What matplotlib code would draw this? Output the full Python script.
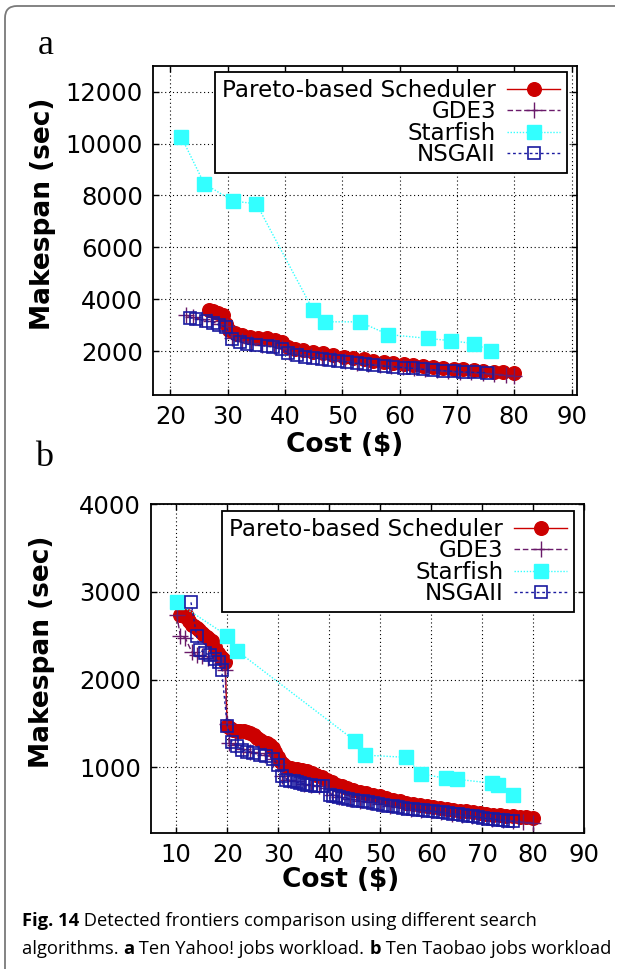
import matplotlib
matplotlib.use("Agg")
import matplotlib.pyplot as plt
from matplotlib.path import Path
from matplotlib.patches import PathPatch

# ---------------- Panel a : Ten Yahoo! jobs workload ----------------
a_pareto_cost = [26.7, 27.5, 28.3, 29.1, 29.7, 30.3, 31.2, 32.4, 33.9, 35.3, 36.8, 38.2, 39.4,
                 40.6, 41.7, 43.2, 44.9, 46.7, 48.4, 50.2, 51.9, 53.7, 55.4, 57.2, 58.9, 60.7,
                 62.4, 64.1, 65.9, 67.6, 69.4, 71.1, 72.9, 74.6, 76.4, 78.1, 80.0]
a_pareto_span = [3600, 3550, 3470, 3380, 3060, 2810, 2680, 2610, 2550, 2525, 2490, 2420, 2360,
                 2170, 2100, 2040, 1975, 1910, 1845, 1780, 1720, 1680, 1630, 1590, 1550, 1500,
                 1460, 1425, 1400, 1360, 1320, 1295, 1270, 1230, 1205, 1180, 1140]

a_gde3_cost = [22.7, 24.0, 25.5, 27.0, 28.5, 29.8, 30.8, 32.5, 34.0, 36.0, 38.0, 39.5, 40.7,
               42.5, 44.5, 46.5, 48.5, 50.5, 52.5, 54.5, 56.5, 58.5, 60.5, 62.5, 64.5, 66.5,
               68.5, 70.5, 72.5, 74.5, 76.5, 78.5, 80.0]
a_gde3_span = [3380, 3300, 3230, 3150, 3050, 2950, 2500, 2380, 2300, 2220, 2180, 2120, 1950,
               1880, 1800, 1740, 1680, 1620, 1560, 1500, 1460, 1420, 1380, 1340, 1300, 1270,
               1240, 1210, 1180, 1150, 1110, 1070, 1040]

a_starfish_cost = [21.9, 25.9, 31.0, 35.0, 44.9, 47.0, 53.0, 58.0, 65.0, 69.0, 73.0, 76.0]
a_starfish_span = [10250, 8450, 7780, 7680, 3580, 3130, 3130, 2640, 2490, 2400, 2290, 2000]

a_nsga_cost = [23.4, 24.5, 26.2, 27.5, 28.5, 29.7, 30.7, 32.1, 33.3, 35.0, 36.8, 37.9, 39.4,
               40.6, 42.0, 43.5, 44.9, 46.4, 47.8, 49.3, 50.8, 52.5, 54.0, 55.4, 57.2, 58.9,
               60.7, 62.4, 64.1, 65.9, 67.6, 69.4, 71.1, 72.9, 75.2]
a_nsga_span = [3290, 3230, 3165, 3100, 3000, 2935, 2450, 2360, 2270, 2230, 2190, 2165, 2100,
               1910, 1845, 1780, 1745, 1705, 1655, 1615, 1580, 1525, 1490, 1460, 1425, 1400,
               1360, 1335, 1295, 1270, 1245, 1220, 1195, 1180, 1170]

# ---------------- Panel b : Ten Taobao jobs workload ----------------
b_pareto_cost = [10.8, 11.5, 12.1, 12.6, 13.0, 13.5, 14.0, 14.5, 15.0, 15.5, 16.0, 16.5, 17.0,
                 17.6, 18.1, 18.5, 18.9, 19.3, 19.6,
                 20.0, 20.5, 21.2, 21.9, 22.6, 23.2, 23.9, 24.5, 25.2, 25.8, 26.5, 27.1, 27.8,
                 28.4, 28.9, 29.4, 29.9, 30.4, 31.0, 31.7, 32.6, 33.6, 34.6, 35.6, 36.6, 37.5,
                 38.5, 39.5, 40.5, 41.5, 42.5, 43.4, 44.7, 46.0, 47.3, 48.6, 49.9, 51.2, 52.5,
                 53.8, 55.1, 56.4, 57.7, 59.1, 60.4, 61.7, 63.0, 64.3, 65.6, 66.9, 68.2, 69.5,
                 70.8, 72.1, 73.4, 74.7, 76.0, 77.3, 78.6, 80.0]
b_pareto_span = [2740, 2730, 2720, 2670, 2625, 2605, 2590, 2560, 2530, 2510, 2490, 2465, 2445,
                 2370, 2300, 2270, 2245, 2225, 2205,
                 1475, 1450, 1430, 1420, 1415, 1410, 1400, 1390, 1365, 1335, 1315, 1295, 1280,
                 1260, 1220, 1180, 1120, 1070, 1040, 1010, 995, 980, 968, 955, 935, 915,
                 890, 860, 830, 805, 785, 765, 745, 725, 707, 690, 670, 650, 632,
                 615, 600, 585, 570, 555, 545, 535, 527, 518, 508, 500, 490, 480,
                 470, 460, 455, 450, 442, 435, 430, 425]

b_gde3_cost = [10.1, 10.8, 11.8, 13.1, 14.0, 15.0, 16.3, 17.6, 18.9, 19.6, 19.9, 20.4, 21.5,
               23.0, 24.5, 26.0, 27.5, 29.0, 30.0, 30.8, 32.0, 33.5, 35.0, 36.5, 38.0, 39.5,
               40.5, 42.0, 44.0, 46.0, 48.0, 50.0, 52.0, 54.0, 56.0, 58.0, 60.0, 62.0, 64.0,
               66.0, 68.0, 70.0, 72.0, 74.0, 76.0, 78.0, 80.0]
b_gde3_span = [2740, 2500, 2470, 2310, 2285, 2265, 2245, 2225, 2190, 2110, 1500, 1280, 1250,
               1210, 1180, 1160, 1140, 1100, 1040, 900, 860, 840, 815, 800, 790, 770,
               690, 665, 640, 620, 605, 585, 565, 545, 530, 515, 500, 490, 475,
               462, 448, 432, 418, 402, 390, 375, 365]

b_starfish_cost = [10.1, 20.0, 22.0, 45.0, 47.0, 55.0, 58.0, 62.8, 65.0, 72.0, 73.0, 76.0]
b_starfish_span = [2880, 2500, 2325, 1305, 1140, 1115, 925, 877, 865, 820, 805, 685]

b_nsga_cost = [12.9, 14.0, 14.7, 15.7, 16.7, 17.6, 18.3, 18.9, 20.0, 20.9, 21.9, 22.9, 23.8,
               25.1, 26.4, 27.7, 29.0, 30.0, 30.7, 31.6, 32.3, 33.0, 33.6, 34.3, 35.0, 35.6,
               36.4, 37.2, 38.0, 38.8, 40.1, 40.8, 41.4, 42.0, 42.7, 43.7, 44.7, 45.6, 46.6,
               47.6, 48.6, 49.6, 50.6, 51.5, 52.5, 53.5, 54.5, 55.4, 56.4, 57.4, 58.4, 59.4,
               60.4, 61.3, 62.3, 63.3, 64.3, 65.2, 66.2, 67.2, 68.2, 69.1, 70.1, 71.1, 72.1,
               73.0, 74.0, 75.0, 76.0]
b_nsga_span = [2880, 2500, 2335, 2300, 2280, 2240, 2205, 2115, 1475, 1290, 1240, 1200, 1180,
               1165, 1145, 1125, 1095, 1030, 900, 860, 850, 840, 830, 822, 812, 805,
               798, 791, 788, 785, 690, 680, 670, 660, 650, 640, 632, 622, 613,
               607, 600, 588, 575, 565, 555, 546, 537, 531, 525, 517, 510, 505,
               500, 494, 488, 480, 472, 466, 460, 451, 442, 432, 423, 418, 412,
               405, 397, 391, 385]

series_labels = ["Pareto-based Scheduler", "GDE3", "Starfish", "NSGAII"]
a_yticks = [2000, 4000, 6000, 8000, 10000, 12000]
b_yticks = [1000, 2000, 3000, 4000]
a_xticks = [20, 30, 40, 50, 60, 70, 80, 90]
b_xticks = [10, 20, 30, 40, 50, 60, 70, 80, 90]

# ---------------- figure ----------------
W, H = 625, 969
fig = plt.figure(figsize=(W / 100, H / 100), dpi=100)
fig.patch.set_facecolor("white")

def box(l, t, r, b):
    return [l / W, 1 - b / H, (r - l) / W, (b - t) / H]

TICKFONT = "DejaVu Sans"
RED = "#cc0000"
PURPLE = "#6a1a6a"
CYAN = "#33ffff"
BLUE = "#1a1aa0"


def draw_panel(ax, data, xlim, ylim, xticks, yticks, legend_anchor, ylab_pos, xlab_pos):
    (pc, ps), (gc, gs), (sc, ss), (nc, ns) = data
    ax.plot(pc, ps, color=RED, lw=1.0, ls="-", marker="o", ms=9.8, mec=RED, mfc=RED,
            label=series_labels[0], zorder=3)
    ax.plot(gc, gs, color=PURPLE, lw=1.0, ls=(0, (4, 2)), marker="+", ms=11, mew=1.0,
            label=series_labels[1], zorder=4)
    ax.plot(sc, ss, color=CYAN, lw=1.0, ls=(0, (1, 1.2)), marker="s", ms=9.5, mec=CYAN,
            mfc=CYAN, label=series_labels[2], zorder=5)
    ax.plot(nc, ns, color=BLUE, lw=1.0, ls=(0, (2, 2)), marker="s", ms=8.5, mew=1.2,
            mec=BLUE, mfc="none", label=series_labels[3], zorder=6)
    ax.set_xlim(*xlim)
    ax.set_ylim(*ylim)
    ax.set_xticks(xticks)
    ax.set_yticks(yticks)
    ax.tick_params(direction="in", top=True, right=True, length=4.3, width=1.0,
                   labelsize=17.5, pad=7)
    for lab in ax.get_xticklabels() + ax.get_yticklabels():
        lab.set_fontfamily(TICKFONT)
    ax.grid(True, color="black", ls=(0, (1, 2.5)), lw=0.8)
    for sp in ax.spines.values():
        sp.set_linewidth(1.3)
    ax.set_ylabel("Makespan (sec)", fontsize=19, fontweight="bold", family=TICKFONT)
    ax.yaxis.set_label_coords(*ylab_pos)
    ax.set_xlabel("Cost ($)", fontsize=19, fontweight="bold", family=TICKFONT)
    ax.xaxis.set_label_coords(*xlab_pos)
    leg = ax.legend(loc="upper right", bbox_to_anchor=legend_anchor,
                    bbox_transform=fig.transFigure, borderaxespad=0, markerfirst=False,
                    numpoints=1, fancybox=False, framealpha=1, edgecolor="black",
                    prop={"family": TICKFONT, "size": 16.6}, handlelength=2.3,
                    labelspacing=-0.06, borderpad=0.3, handletextpad=0.48)
    leg.get_frame().set_linewidth(1.3)
    leg.set_zorder(10)


ax1 = fig.add_axes(box(152.7, 65.7, 576.7, 395))
draw_panel(ax1,
           [(a_pareto_cost, a_pareto_span), (a_gde3_cost, a_gde3_span),
            (a_starfish_cost, a_starfish_span), (a_nsga_cost, a_nsga_span)],
           (16.9, 90.9), (310, 13000), a_xticks, a_yticks,
           (567 / W, 1 - 71.7 / H), (-0.228, 0.55), (0.4535, -0.113))

ax2 = fig.add_axes(box(150.7, 504, 584.3, 833))
draw_panel(ax2,
           [(b_pareto_cost, b_pareto_span), (b_gde3_cost, b_gde3_span),
            (b_starfish_cost, b_starfish_span), (b_nsga_cost, b_nsga_span)],
           (5, 90), (253, 4000), b_xticks, b_yticks,
           (574.3 / W, 1 - 510.7 / H), (-0.22, 0.55), (0.437, -0.104))

# panel letters
fig.text(46 / W, 1 - 45 / H, "a", family="Liberation Serif", fontsize=26, ha="center", va="center")
fig.text(44 / W, 1 - 458 / H, "b", family="Liberation Serif", fontsize=26, ha="center", va="center")

# frame (open on right/bottom)
verts = [(615, 6), (17, 6), (5, 6), (5, 18), (5, 969)]
codes = [Path.MOVETO, Path.LINETO, Path.CURVE3, Path.CURVE3, Path.LINETO]
fverts = [(x / W, 1 - y / H) for x, y in verts]
fig.patches.append(PathPatch(Path(fverts, codes), transform=fig.transFigure, fill=False,
                             edgecolor="#7a7a7a", lw=1.3))

# caption with bold runs
CAPFONT = "Open Sans"
renderer = fig.canvas.get_renderer()


def runs(x_px, base_px, parts, size):
    x = x_px
    for txt, bold in parts:
        t = fig.text(x / W, 1 - base_px / H, txt, family=CAPFONT, fontsize=size,
                     fontweight="bold" if bold else "normal", ha="left", va="baseline")
        bb = t.get_window_extent(renderer=renderer)
        x += bb.width


cap1 = [("Fig. 14", True), (" Detected frontiers comparison using different search", False)]
cap2 = [("algorithms. ", False), ("a", True), (" Ten Yahoo! jobs workload. ", False),
        ("b", True), (" Ten Taobao jobs workload", False)]
runs(22, 926, cap1, 13.2)
runs(22, 954, cap2, 13.2)

fig.savefig("out.png", dpi=100)
